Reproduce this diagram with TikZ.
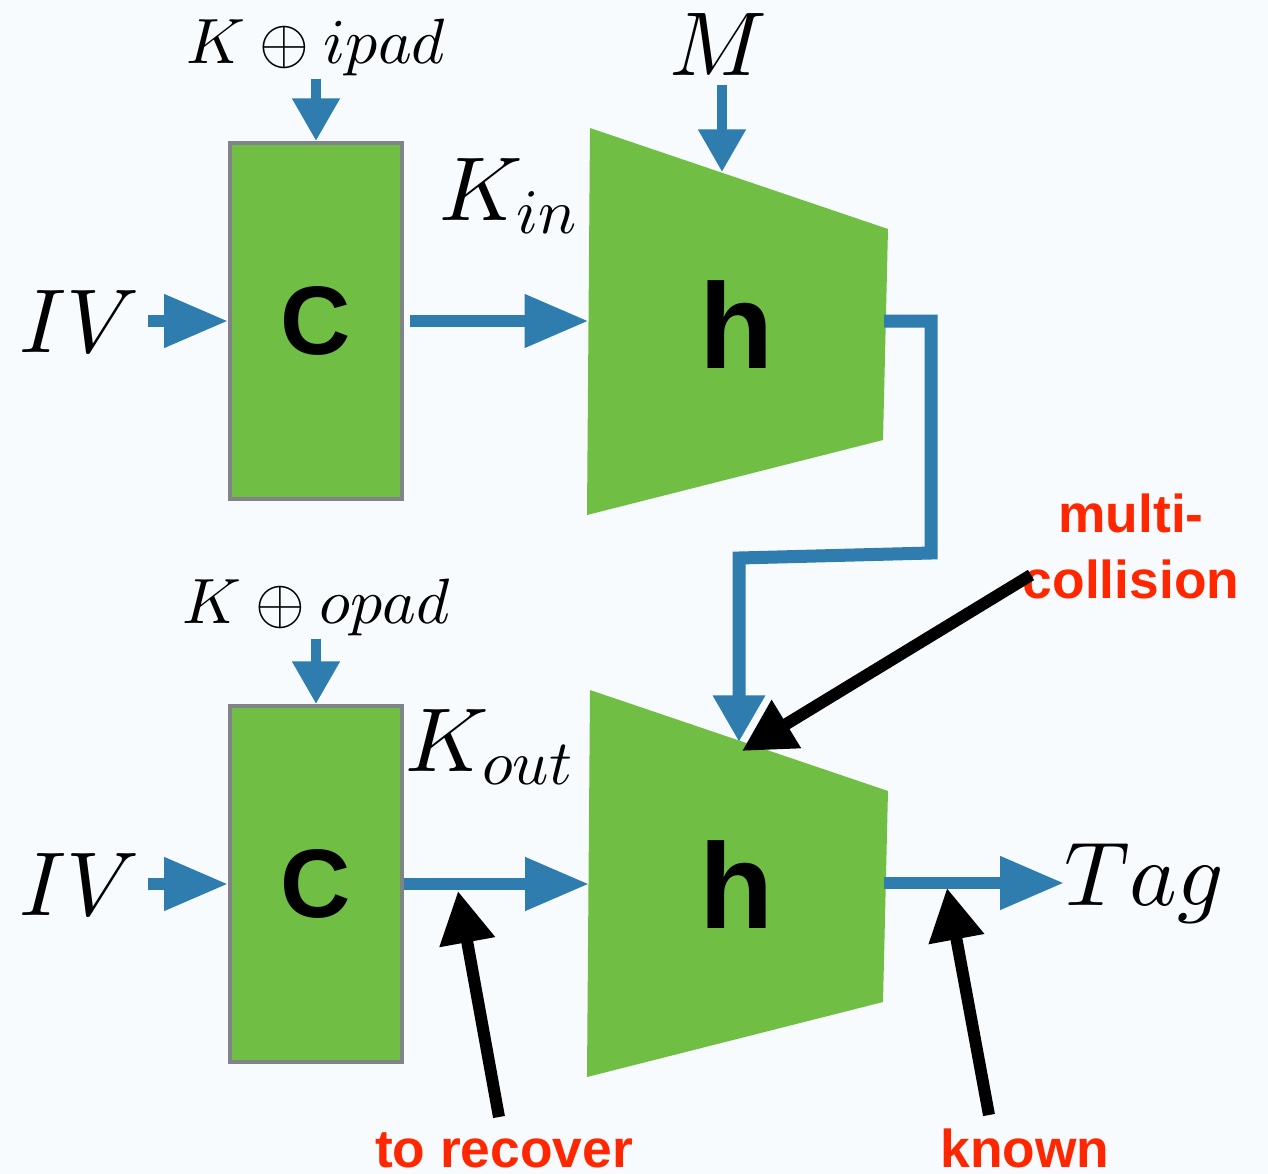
\documentclass[tikz,border=0pt]{standalone}
\usepackage{fontspec}
\setsansfont{Liberation Sans}
\DeclareFontShape{OML}{cmm}{m}{it}{<->cmmi10}{}
\DeclareFontShape{OMS}{cmsy}{m}{n}{<->cmsy10}{}
\DeclareFontShape{OT1}{cmr}{m}{n}{<->cmr10}{}
\usetikzlibrary{arrows.meta,calc}
\definecolor{bg}{RGB}{247,251,254}
\definecolor{hblue}{RGB}{47,125,175}
\definecolor{hgreen}{RGB}{112,191,68}
\definecolor{hgray}{RGB}{128,132,136}
\definecolor{hred}{RGB}{255,38,0}
\tikzset{
  cbox/.style={draw=hgray, line width=3pt, fill=hgreen, minimum width=129pt, minimum height=267pt, inner sep=0pt,
    font=\sffamily\bfseries\fontsize{73}{80}\selectfont},
  hlbl/.style={inner sep=0pt, font=\sffamily\bfseries\fontsize{91}{100}\selectfont},
  trap/.style={fill=hgreen},
  biglbl/.style={inner sep=0pt, font=\fontsize{68}{80}\selectfont},
  smlbl/.style={inner sep=0pt, font=\fontsize{48}{56}\selectfont},
  redlbl/.style={inner sep=0pt, text=hred, font=\sffamily\bfseries\fontsize{40}{48}\selectfont},
  bluearrow/.style={draw=hblue, line width=9pt, -{Triangle[length=48pt,width=38pt]}},
  bluedown/.style={draw=hblue, line width=7.5pt, -{Triangle[length=32pt,width=34pt]}},
  feedback/.style={draw=hblue, line width=9.75pt, line join=miter, -{Triangle[length=35pt,width=37pt]}},
  blackarrow/.style={draw=black, line width=9pt, -{Triangle[length=39pt,width=40pt]}}
}
\begin{document}
\begin{tikzpicture}[x=0.75pt,y=-0.75pt]
\useasboundingbox (0,0) rectangle (1268,1174);
\fill[bg] (0,0) rectangle (1268,1174);

% ---- top row ----
\node[cbox] (c1) at (316,321) {C};
\fill[trap] (590,128) -- (888,229) -- (883,440) -- (587,515) -- cycle;
\coordinate (h1in) at (588.5,321);
\coordinate (h1top) at (722,172);
\coordinate (h1out) at (884,321);
\node[hlbl, anchor=base] (h1) at (737,368) {h};

\node[biglbl, anchor=base] (iv1) at (80,352) {$IV$};
\node[smlbl, anchor=base] (kipad) at (316,63) {$K\oplus ipad$};
\node[biglbl, anchor=base] (m) at (718,75) {$M$};
\node[biglbl, anchor=base west] (kin) at (439,220) {$K_{in}$};

\draw[bluearrow] ($(iv1.east |- c1.west)+(8,0)$) -- (c1.west);
\draw[bluedown] ($(kipad.south)+(0,3)$) -- (c1.north);
\draw[bluedown] ($(m.south -| h1top)+(0,10)$) -- (h1top);
\draw[bluearrow] ($(c1.east)+(6,0)$) -- (h1in);

% ---- bottom row ----
\node[cbox] (c2) at (316,884) {C};
\fill[trap] (590,690) -- (888,791) -- (883,1002) -- (587,1077) -- cycle;
\coordinate (h2in) at (589,884);
\coordinate (h2top) at (739,742);
\coordinate (h2out) at (884,883);
\node[hlbl, anchor=base] (h2) at (737,928) {h};

\node[biglbl, anchor=base] (iv2) at (80,915) {$IV$};
\node[smlbl, anchor=base] (kopad) at (316,623) {$K\oplus opad$};
\node[biglbl, anchor=base west] (kout) at (405,771) {$K_{out}$};
\node[biglbl, anchor=base west] (tag) at (1064,905) {$Tag$};

\draw[bluearrow] ($(iv2.east |- c2.west)+(8,0)$) -- (c2.west);
\draw[bluedown] ($(kopad.south)+(0,3)$) -- (c2.north);
\draw[bluearrow] (c2.east) -- (h2in);
\draw[bluearrow] (h2out) -- (tag.west |- h2out);

% ---- feedback connector ----
\draw[feedback] (h1out) -- (931,321) -- (931,553) -- (739,558) -- (h2top);

% ---- annotations ----
\node[redlbl, anchor=base] (mc1) at (1131,532) {multi-};
\node[redlbl, anchor=base] (mc2) at (1131,598) {collision};
\node[redlbl, anchor=base] (rec) at (504,1167) {to recover};
\node[redlbl, anchor=base] (kn) at (1025,1167) {known};

\coordinate (mctail) at (1031,575);
\coordinate (mchit) at (742,751);
\coordinate (rectail) at (499,1117);
\coordinate (rechit) at (458,891);
\coordinate (kntail) at (989,1115);
\coordinate (knhit) at (947,888);

\draw[blackarrow] (mctail) -- (mchit);
\draw[blackarrow] (rectail) -- (rechit);
\draw[blackarrow] (kntail) -- (knhit);
\end{tikzpicture}
\end{document}
